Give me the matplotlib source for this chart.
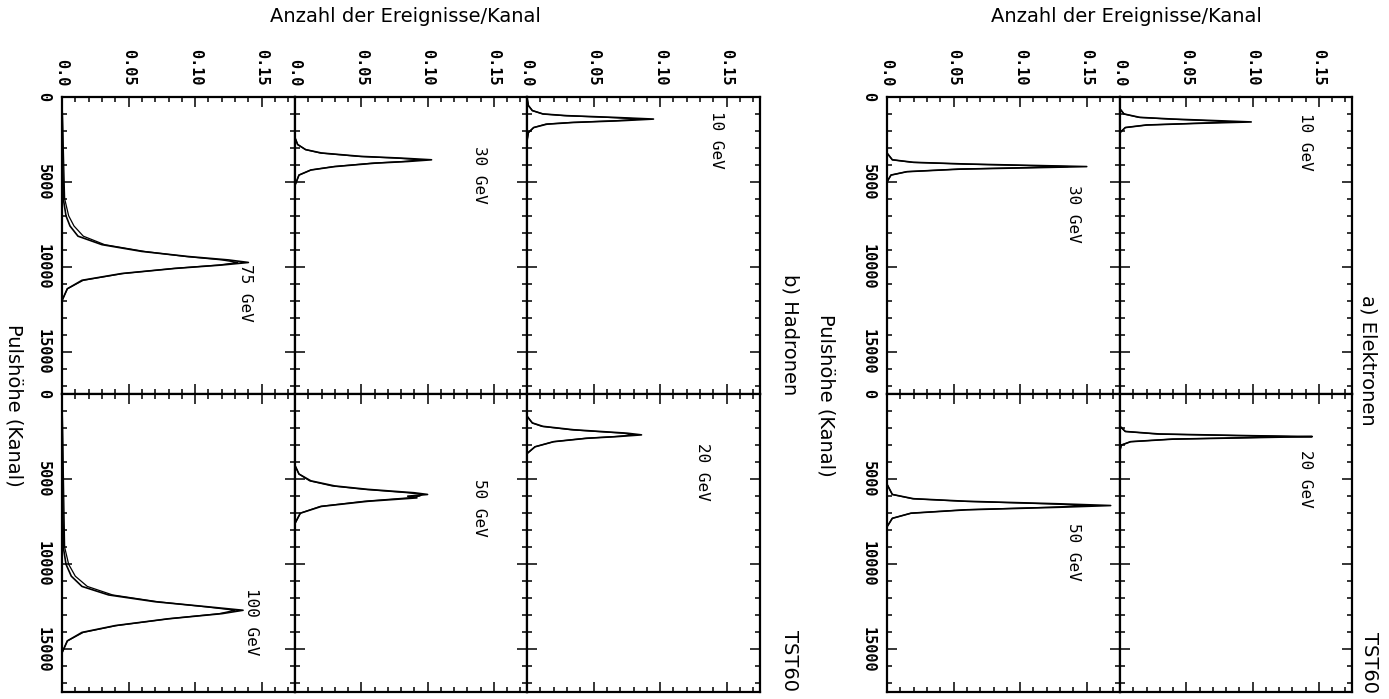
import matplotlib
matplotlib.use("Agg")
import matplotlib.pyplot as plt
from matplotlib.ticker import MultipleLocator

# --- data: pulse height (Kanal) and events/channel ---
# Hadronen
HAD_10_PULSE = [0, 500, 800, 1000, 1100, 1200, 1300, 1400, 1500, 1600, 1800, 2100, 2600, 17500]
HAD_10_A = [0, 0.001, 0.004, 0.012, 0.030, 0.065, 0.095, 0.070, 0.035, 0.015, 0.005, 0.001, 0, 0]
HAD_10_B = [0, 0.001, 0.004, 0.012, 0.028, 0.060, 0.086, 0.066, 0.033, 0.014, 0.005, 0.001, 0, 0]

HAD_20_PULSE = [0, 1300, 1700, 1900, 2100, 2200, 2300, 2400, 2500, 2600, 2800, 3100, 3500, 17500]
HAD_20_A = [0, 0.000, 0.004, 0.012, 0.035, 0.055, 0.075, 0.086, 0.068, 0.045, 0.020, 0.006, 0, 0]
HAD_20_B = [0, 0.000, 0.004, 0.011, 0.033, 0.052, 0.072, 0.080, 0.066, 0.044, 0.020, 0.006, 0, 0]

HAD_30_PULSE = [0, 2400, 2800, 3100, 3300, 3500, 3600, 3700, 3800, 3900, 4100, 4300, 4600, 5200, 17500]
HAD_30_A = [0, 0.000, 0.002, 0.008, 0.020, 0.050, 0.080, 0.103, 0.085, 0.060, 0.030, 0.012, 0.003, 0, 0]
HAD_30_B = [0, 0.000, 0.002, 0.008, 0.019, 0.048, 0.076, 0.095, 0.082, 0.058, 0.029, 0.012, 0.003, 0, 0]

HAD_50_PULSE = [0, 4200, 4700, 5100, 5400, 5600, 5800, 5900, 6000, 6100, 6300, 6600, 7000, 7600, 17500]
HAD_50_A = [0, 0.000, 0.003, 0.012, 0.030, 0.055, 0.090, 0.100, 0.085, 0.092, 0.055, 0.020, 0.004, 0, 0]
HAD_50_B = [0, 0.000, 0.003, 0.011, 0.028, 0.052, 0.085, 0.096, 0.094, 0.085, 0.052, 0.019, 0.004, 0, 0]

HAD_75_PULSE = [0, 6000, 7000, 7600, 8200, 8700, 9100, 9400, 9600, 9750, 9900, 10100, 10400, 10800, 11300, 12000, 17500]
HAD_75_A = [0, 0.001, 0.003, 0.006, 0.012, 0.030, 0.060, 0.095, 0.125, 0.140, 0.120, 0.085, 0.045, 0.015, 0.004, 0, 0]
HAD_75_B = [0, 0.002, 0.005, 0.009, 0.016, 0.032, 0.062, 0.093, 0.120, 0.132, 0.118, 0.084, 0.046, 0.016, 0.004, 0, 0]

HAD_100_PULSE = [0, 9000, 10000, 10700, 11300, 11800, 12200, 12500, 12700, 12900, 13200, 13600, 14000, 14500, 15200, 17500]
HAD_100_A = [0, 0.001, 0.003, 0.007, 0.015, 0.035, 0.070, 0.110, 0.136, 0.120, 0.080, 0.040, 0.015, 0.004, 0, 0]
HAD_100_B = [0, 0.002, 0.005, 0.010, 0.019, 0.038, 0.072, 0.108, 0.130, 0.118, 0.080, 0.041, 0.016, 0.004, 0, 0]

# Elektronen
ELE_10_PULSE = [0, 700, 1000, 1200, 1300, 1400, 1470, 1550, 1650, 1800, 2100, 17500]
ELE_10_A = [0, 0.000, 0.003, 0.015, 0.040, 0.075, 0.099, 0.060, 0.020, 0.004, 0, 0]
ELE_10_B = [0, 0.000, 0.003, 0.014, 0.037, 0.068, 0.086, 0.057, 0.020, 0.004, 0, 0]

ELE_20_PULSE = [0, 1900, 2200, 2350, 2450, 2500, 2550, 2650, 2800, 3000, 3300, 17500]
ELE_20_A = [0, 0.000, 0.004, 0.030, 0.100, 0.145, 0.110, 0.040, 0.008, 0.001, 0, 0]
ELE_20_B = [0, 0.000, 0.004, 0.028, 0.092, 0.128, 0.104, 0.039, 0.008, 0.001, 0, 0]

ELE_30_PULSE = [0, 3300, 3700, 3850, 3950, 4050, 4100, 4150, 4250, 4400, 4600, 5000, 17500]
ELE_30_A = [0, 0.000, 0.004, 0.020, 0.060, 0.120, 0.150, 0.120, 0.055, 0.015, 0.003, 0, 0]
ELE_30_B = [0, 0.000, 0.004, 0.019, 0.057, 0.110, 0.136, 0.112, 0.053, 0.015, 0.003, 0, 0]

ELE_50_PULSE = [0, 5300, 5900, 6150, 6300, 6450, 6550, 6650, 6800, 7000, 7300, 7800, 17500]
ELE_50_A = [0, 0.000, 0.004, 0.020, 0.060, 0.130, 0.168, 0.130, 0.060, 0.018, 0.004, 0, 0]
ELE_50_B = [0, 0.000, 0.004, 0.019, 0.057, 0.120, 0.152, 0.122, 0.058, 0.018, 0.004, 0, 0]

COUNT_TICKS = [0.0, 0.05, 0.10, 0.15]
COUNT_LABELS = ["0.0", "0.05", "0.10", "0.15"]
PULSE_TICKS = [0, 5000, 10000, 15000]
PULSE_LABELS = ["0", "5000", "10000", "15000"]

W, H = 1389, 699
XMAX, YMAX = 0.175, 17500
FS = 11
MONO = "DejaVu Sans Mono"


def rect(x0, y0, x1, y1):
    return [x0 / W, 1 - y1 / H, (x1 - x0) / W, (y1 - y0) / H]


def panel(fig, box, pulse, a, b, label, lab_x, lab_y, top, left):
    ax = fig.add_axes(rect(*box))
    ax.plot(a, pulse, color="k", lw=1.2)
    ax.plot(b, pulse, color="k", lw=0.9)
    ax.set_xlim(0, XMAX)
    ax.set_ylim(YMAX, 0)
    ax.xaxis.set_major_locator(MultipleLocator(0.05))
    ax.xaxis.set_minor_locator(MultipleLocator(0.01))
    ax.yaxis.set_major_locator(MultipleLocator(5000))
    ax.yaxis.set_minor_locator(MultipleLocator(1000))
    ax.tick_params(which="both", direction="in", top=True, bottom=True,
                   left=True, right=True, labelbottom=False, labeltop=top,
                   labelleft=left, labelright=False, width=1.1,
                   labelsize=FS, pad=8)
    ax.tick_params(which="major", length=7)
    ax.tick_params(which="minor", length=3.5)
    if top:
        ax.set_xticks(COUNT_TICKS)
        ax.set_xticklabels(COUNT_LABELS, rotation=-90, va="bottom", ha="center",
                           family=MONO, fontweight="bold")
    if left:
        ax.set_yticks(PULSE_TICKS)
        ax.set_yticklabels(PULSE_LABELS, rotation=-90, va="center", ha="right",
                           family=MONO, fontweight="bold")
    for s in ax.spines.values():
        s.set_linewidth(1.6)
    ax.text(lab_x, lab_y, label, rotation=-90, ha="center", va="top",
            fontsize=FS + 0.5, family=MONO)
    return ax


fig = plt.figure(figsize=(W / 100, H / 100), dpi=100)

ROWS = [97, 394, 692]
HAD_COLS = [62, 295, 527, 760]
ELE_COLS = [887, 1120, 1352]

# (col, row, pulse, A, B, label, label counts, label pulse)
had = [(0, 0, HAD_75_PULSE, HAD_75_A, HAD_75_B, "75 GeV", 0.138, 9850),
       (0, 1, HAD_100_PULSE, HAD_100_A, HAD_100_B, "100 GeV", 0.142, 11400),
       (1, 0, HAD_30_PULSE, HAD_30_A, HAD_30_B, "30 GeV", 0.139, 2900),
       (1, 1, HAD_50_PULSE, HAD_50_A, HAD_50_B, "50 GeV", 0.139, 5000),
       (2, 0, HAD_10_PULSE, HAD_10_A, HAD_10_B, "10 GeV", 0.142, 800),
       (2, 1, HAD_20_PULSE, HAD_20_A, HAD_20_B, "20 GeV", 0.132, 2900)]
ele = [(0, 0, ELE_30_PULSE, ELE_30_A, ELE_30_B, "30 GeV", 0.140, 5200),
       (0, 1, ELE_50_PULSE, ELE_50_A, ELE_50_B, "50 GeV", 0.140, 7600),
       (1, 0, ELE_10_PULSE, ELE_10_A, ELE_10_B, "10 GeV", 0.140, 950),
       (1, 1, ELE_20_PULSE, ELE_20_A, ELE_20_B, "20 GeV", 0.140, 3300)]

for cols, group in ((HAD_COLS, had), (ELE_COLS, ele)):
    for c, r, p, a, b, lab, lx, ly in group:
        box = (cols[c], ROWS[r], cols[c + 1], ROWS[r + 1])
        panel(fig, box, p, a, b, lab, lx, ly, top=(r == 0), left=(c == 0))

# axis titles and figure captions (page is turned by 90 degrees)
TS = 14
fig.text(405 / W, 1 - 16 / H, "Anzahl der Ereignisse/Kanal", ha="center", va="center", fontsize=TS)
fig.text(1126 / W, 1 - 16 / H, "Anzahl der Ereignisse/Kanal", ha="center", va="center", fontsize=TS)
fig.text(14 / W, 1 - 405 / H, "Pulshöhe (Kanal)", rotation=-90, ha="center", va="center", fontsize=TS)
fig.text(826 / W, 1 - 395 / H, "Pulshöhe (Kanal)", rotation=-90, ha="center", va="center", fontsize=TS)
fig.text(790 / W, 1 - 335 / H, "b) Hadronen", rotation=-90, ha="center", va="center", fontsize=TS)
fig.text(1368 / W, 1 - 360 / H, "a) Elektronen", rotation=-90, ha="center", va="center", fontsize=TS)
fig.text(789 / W, 1 - 660 / H, "TST60", rotation=-90, ha="center", va="center", fontsize=TS)
fig.text(1370 / W, 1 - 662 / H, "TST60", rotation=-90, ha="center", va="center", fontsize=TS)

fig.savefig("out.png", dpi=100)
